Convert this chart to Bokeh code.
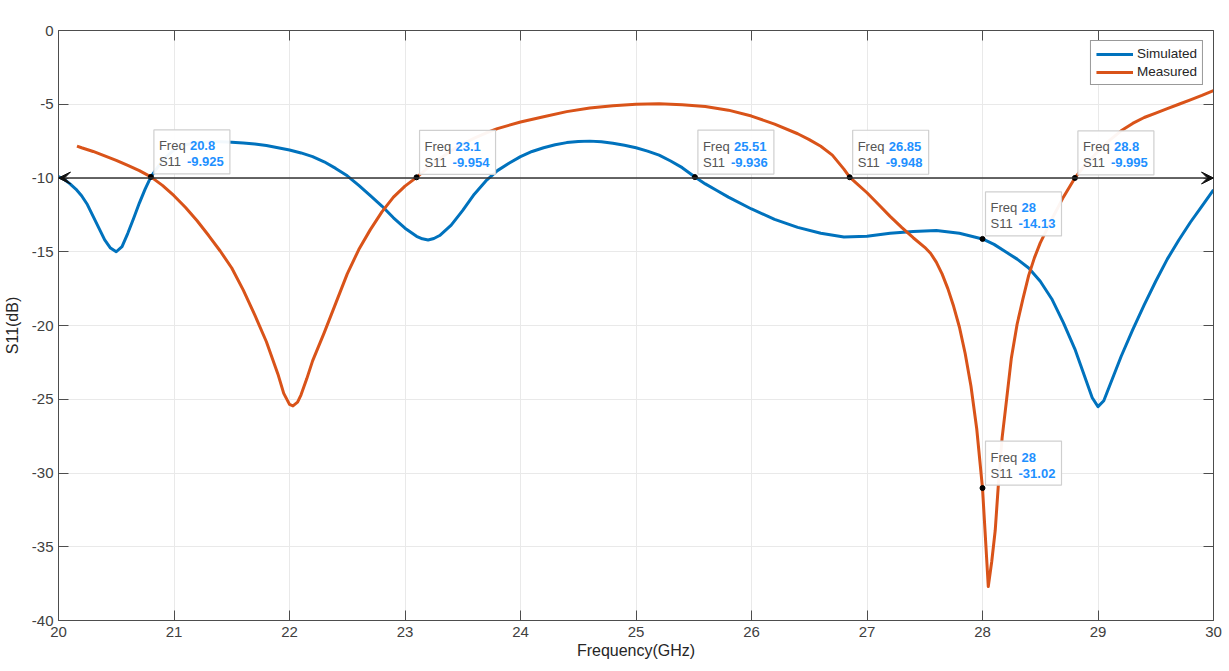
from bokeh.plotting import figure
from bokeh.models import (Range1d, FixedTicker, LinearAxis, Label, Arrow, VeeHead,
                          ColumnDataSource, CustomJSTickFormatter)
from bokeh.embed import file_html
from bokeh.resources import INLINE
from bokeh.core.properties import value

# ---------------- data ----------------
freq_sim = [20.0, 20.05, 20.1, 20.15, 20.2, 20.25, 20.3, 20.35, 20.4, 20.45,
            20.5, 20.55, 20.6, 20.65, 20.7, 20.75, 20.8, 20.9,
            21.0, 21.1, 21.2, 21.3, 21.4, 21.5, 21.6, 21.7, 21.8, 21.9,
            22.0, 22.1, 22.2, 22.3, 22.4, 22.5, 22.6, 22.7, 22.8, 22.9,
            23.0, 23.1, 23.15, 23.2, 23.25, 23.3, 23.4, 23.5, 23.6, 23.7, 23.8, 23.9,
            24.0, 24.1, 24.2, 24.3, 24.4, 24.5, 24.6, 24.7, 24.8, 24.9,
            25.0, 25.1, 25.2, 25.3, 25.4, 25.51, 25.6, 25.7,
            25.8, 26.0, 26.2, 26.4, 26.6, 26.8, 27.0, 27.2, 27.4, 27.6,
            27.8, 28.0, 28.1, 28.2, 28.3, 28.4, 28.5, 28.6, 28.7, 28.8,
            28.85, 28.9, 28.95, 29.0, 29.05, 29.1, 29.15, 29.2, 29.3, 29.4,
            29.5, 29.6, 29.7, 29.8, 29.9, 30.0]
s11_sim = [-9.9, -10.1, -10.4, -10.75, -11.2, -11.8, -12.6, -13.4, -14.2, -14.75,
           -15.0, -14.65, -13.75, -12.75, -11.7, -10.75, -9.925, -8.8,
           -8.1, -7.75, -7.6, -7.55, -7.55, -7.57, -7.62, -7.7, -7.8, -7.95,
           -8.1, -8.3, -8.55, -8.9, -9.35, -9.85, -10.5, -11.2, -11.9, -12.7,
           -13.4, -13.95, -14.12, -14.2, -14.1, -13.9, -13.2, -12.2, -11.1, -10.2, -9.5, -9.0,
           -8.55, -8.2, -7.95, -7.75, -7.6, -7.52, -7.5, -7.55, -7.65, -7.78,
           -7.95, -8.18, -8.45, -8.85, -9.3, -9.936, -10.4, -10.85,
           -11.3, -12.1, -12.8, -13.35, -13.75, -14.0, -13.95, -13.75, -13.62, -13.56,
           -13.75, -14.13, -14.5, -15.0, -15.5, -16.1, -17.0, -18.2, -19.8, -21.6,
           -22.7, -23.8, -24.9, -25.5, -25.1, -24.1, -23.1, -22.1, -20.3, -18.6,
           -17.0, -15.5, -14.2, -13.0, -11.9, -10.8]

freq_meas = [20.16, 20.2, 20.3, 20.4, 20.5, 20.6, 20.7, 20.8, 20.9, 21.0,
             21.1, 21.2, 21.3, 21.4, 21.5, 21.6, 21.7, 21.8, 21.9, 21.95,
             22.0, 22.03, 22.07, 22.1, 22.15, 22.2, 22.3, 22.4, 22.5, 22.6,
             22.7, 22.8, 22.9, 23.0, 23.1, 23.2, 23.3, 23.4, 23.5, 23.6,
             23.7, 23.8, 24.0, 24.2, 24.4, 24.6, 24.8, 25.0, 25.2, 25.4,
             25.6, 25.8, 26.0, 26.2, 26.4, 26.5, 26.6, 26.7, 26.8, 26.85, 26.9,
             27.0, 27.1, 27.2, 27.3, 27.4, 27.5, 27.55, 27.6, 27.65, 27.7,
             27.75, 27.8, 27.85, 27.9, 27.95, 28.0, 28.03, 28.05, 28.08, 28.11,
             28.14, 28.17, 28.2, 28.25, 28.3, 28.35, 28.4, 28.45, 28.5, 28.6,
             28.7, 28.8, 28.9, 29.0, 29.1, 29.2, 29.3, 29.4, 29.5,
             29.6, 29.7, 29.8, 29.9, 30.0]
s11_meas = [-7.84, -7.95, -8.2, -8.5, -8.8, -9.15, -9.5, -9.925, -10.5, -11.2,
            -12.0, -12.9, -13.9, -14.95, -16.1, -17.6, -19.3, -21.1, -23.3, -24.6,
            -25.35, -25.45, -25.2, -24.7, -23.6, -22.4, -20.5, -18.5, -16.5, -14.85,
            -13.5, -12.3, -11.3, -10.55, -9.954, -9.3, -8.7, -8.15, -7.7, -7.3,
            -6.95, -6.65, -6.2, -5.85, -5.5, -5.25, -5.1, -5.0, -4.97, -5.03,
            -5.15, -5.4, -5.8, -6.35, -7.0, -7.4, -7.85, -8.45, -9.4, -9.948, -10.3,
            -11.0, -11.8, -12.6, -13.35, -14.05, -14.7, -15.1, -15.7, -16.5, -17.5,
            -18.7, -20.1, -21.9, -24.1, -27.0, -31.02, -35.0, -37.7, -36.0, -33.9,
            -30.5, -27.6, -25.6, -22.2, -19.9, -18.2, -16.6, -15.4, -14.4, -12.8,
            -11.3, -9.995, -9.0, -8.2, -7.45, -6.8, -6.3, -5.9, -5.6,
            -5.3, -5.0, -4.7, -4.4, -4.07]

tip_freq = [20.8, 23.1, 25.51, 26.85, 28.0, 28.8, 28.0]
tip_s11 = [-9.925, -9.954, -9.936, -9.948, -14.13, -9.995, -31.02]
tip_freq_text = ["20.8", "23.1", "25.51", "26.85", "28", "28.8", "28"]
tip_s11_text = ["-9.925", "-9.954", "-9.936", "-9.948", "-14.13", "-9.995", "-31.02"]

x_ticks = [20, 21, 22, 23, 24, 25, 26, 27, 28, 29, 30]
x_tick_labels = ["20", "21", "22", "23", "24", "25", "26", "27", "28", "29", "30"]
y_ticks = [0, -5, -10, -15, -20, -25, -30, -35, -40]
y_tick_labels = ["0", "-5", "-10", "-15", "-20", "-25", "-30", "-35", "-40"]

threshold_db = -10
x_min, x_max = 20, 30
y_min, y_max = -40, 0

title_text = "Comparison of Reflection coefficient Simulated vs Measured"
x_label = "Frequency(GHz)"
y_label = "S11(dB)"
series_names = ["Simulated", "Measured"]

# ---------------- style ----------------
FONT = "Liberation Sans"
BLUE = "#0072BD"
ORANGE = "#D95319"
TIP_BLUE = "#1E90FF"
W, H = 1229, 671
ML, MR, MT, MB = 58, 16, 30, 51
FRAME_W = W - ML - MR
FRAME_H = H - MT - MB
PX_X = FRAME_W / (x_max - x_min)
PX_Y = FRAME_H / (y_max - y_min)

p = figure(width=W, height=H, output_backend="svg", toolbar_location=None,
           x_range=Range1d(x_min, x_max), y_range=Range1d(y_min, y_max),
           min_border_left=ML, min_border_right=MR, min_border_top=MT,
           min_border_bottom=MB, background_fill_color="white",
           border_fill_color="white")
p.outline_line_color = None

AXC = "#4d4d4d"
for ax in (p.xaxis[0], p.yaxis[0]):
    ax.axis_line_color = AXC
    ax.major_tick_line_color = AXC
    ax.major_tick_in = 10
    ax.major_tick_out = 0
    ax.minor_tick_line_color = None
    ax.major_label_text_font = FONT
    ax.major_label_text_font_size = "15px"
    ax.major_label_text_color = "#404040"
    ax.axis_label_text_font = FONT
    ax.axis_label_text_font_size = "16px"
    ax.axis_label_text_font_style = "normal"
    ax.axis_label_text_color = "#262626"

p.xaxis.ticker = FixedTicker(ticks=x_ticks)
p.xaxis.major_label_overrides = dict(zip(x_ticks, x_tick_labels))
p.xaxis.axis_label = x_label
p.xaxis.major_label_standoff = 6
p.xaxis.axis_label_standoff = 2

p.yaxis.ticker = FixedTicker(ticks=y_ticks)
p.yaxis.major_label_overrides = dict(zip(y_ticks, y_tick_labels))
p.yaxis.axis_label = y_label
p.yaxis.major_label_standoff = 5
p.yaxis.axis_label_standoff = 8

blank = CustomJSTickFormatter(code="return ''")
top_ax = LinearAxis(ticker=FixedTicker(ticks=x_ticks), formatter=blank,
                    axis_line_color=AXC, major_tick_line_color=AXC,
                    major_tick_in=10, major_tick_out=0, minor_tick_line_color=None,
                    major_label_standoff=0)
right_ax = LinearAxis(ticker=FixedTicker(ticks=y_ticks), formatter=blank,
                      axis_line_color=AXC, major_tick_line_color=AXC,
                      major_tick_in=10, major_tick_out=0, minor_tick_line_color=None,
                      major_label_standoff=0)
p.add_layout(top_ax, "above")
p.add_layout(right_ax, "right")

p.xgrid.ticker = FixedTicker(ticks=x_ticks)
p.ygrid.ticker = FixedTicker(ticks=y_ticks)
p.grid.grid_line_color = "#e9e9e9"
p.grid.grid_line_width = 1

# curves
p.line(freq_sim, s11_sim, line_color=BLUE, line_width=3, line_join="round",
       legend_label=series_names[0])
p.line(freq_meas, s11_meas, line_color=ORANGE, line_width=3, line_join="round",
       legend_label=series_names[1])

# -10 dB reference arrow
p.add_layout(Arrow(x_start=x_min, y_start=threshold_db, x_end=x_max, y_end=threshold_db,
                   line_color="#333333", line_width=1.3,
                   start=VeeHead(size=12, fill_color="#111111", line_color="#111111", line_width=1),
                   end=VeeHead(size=12, fill_color="#111111", line_color="#111111", line_width=1)))

# data tips
tip_src = ColumnDataSource(dict(
    f=tip_freq, s=tip_s11, ft=tip_freq_text, st=tip_s11_text,
    left=[f + 3 / PX_X for f in tip_freq],
    right=[f + 79 / PX_X for f in tip_freq],
    bottom=[s + 3 / PX_Y for s in tip_s11],
    top=[s + 47 / PX_Y for s in tip_s11],
))
p.quad(left="left", right="right", bottom="bottom", top="top", source=tip_src,
       fill_color="white", fill_alpha=0.95, line_color="#cfcfcf", line_width=1.2)
tf = value(FONT)
p.text(x="f", y="s", text=value("Freq"), source=tip_src, x_offset=8, y_offset=-31,
       text_font=tf, text_font_size="13px", text_color="#555555",
       text_baseline="middle", text_align="left")
p.text(x="f", y="s", text=value("S11"), source=tip_src, x_offset=8, y_offset=-15,
       text_font=tf, text_font_size="13px", text_color="#555555",
       text_baseline="middle", text_align="left")
p.text(x="f", y="s", text="ft", source=tip_src, x_offset=39, y_offset=-31,
       text_font=tf, text_font_size="13px", text_color=TIP_BLUE, text_font_style="bold",
       text_baseline="middle", text_align="left")
p.text(x="f", y="s", text="st", source=tip_src, x_offset=36, y_offset=-15,
       text_font=tf, text_font_size="13px", text_color=TIP_BLUE, text_font_style="bold",
       text_baseline="middle", text_align="left")
p.scatter(x="f", y="s", source=tip_src, size=5, fill_color="black", line_color="black")

# title
p.add_layout(Label(x=(x_min + x_max) / 2, y=y_max, y_offset=14, x_offset=-5, text=title_text,
                   text_font=FONT, text_font_size="16.5px", text_font_style="bold",
                   text_color="black", text_align="center", text_baseline="middle"))

# legend
lg = p.legend[0]
lg.location = "top_right"
lg.margin = 10
lg.padding = 5
lg.spacing = 3
lg.glyph_width = 37
lg.glyph_height = 14
lg.label_height = 14
lg.label_standoff = 4
lg.label_text_font = FONT
lg.label_text_font_size = "13.5px"
lg.label_text_color = "#262626"
lg.border_line_color = "#333333"
lg.border_line_width = 1
lg.background_fill_color = "white"
lg.background_fill_alpha = 1

open("out.html", "w").write(file_html(p, INLINE))
